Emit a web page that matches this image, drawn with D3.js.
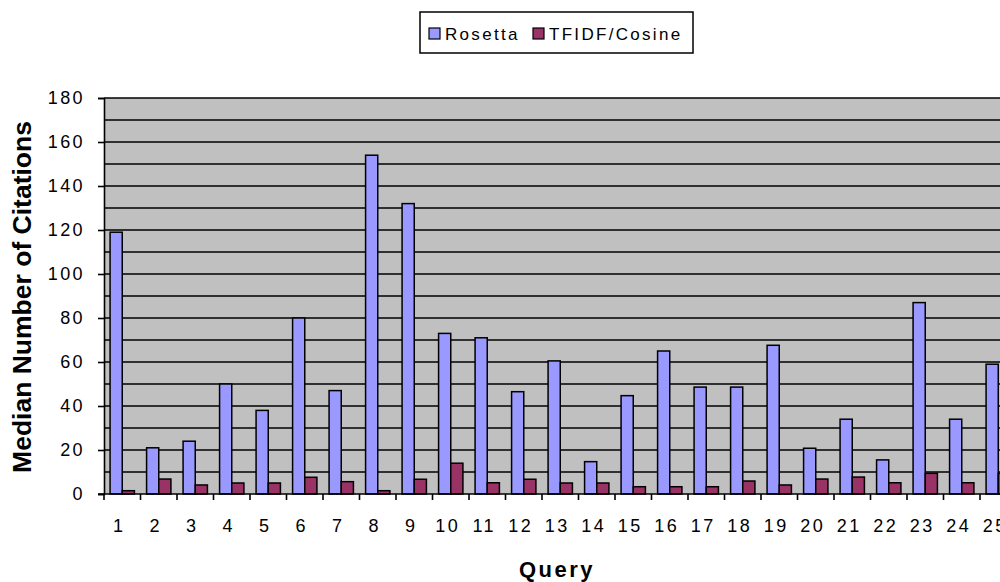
<!DOCTYPE html>
<html>
<head>
<meta charset="utf-8">
<script src="https://cdn.jsdelivr.net/npm/d3@7"></script>
<style>
  html, body { margin: 0; padding: 0; background: #fff; overflow: hidden; }
  svg { display: block; font-family: "Liberation Sans", Arial, sans-serif; }
</style>
</head>
<body>
<svg id="chart" width="1000" height="582"></svg>
<script>
// Query numbers along the x axis
const queries = ["1","2","3","4","5","6","7","8","9","10","11","12","13","14","15","16","17","18","19","20","21","22","23","24","25"];
// Median number of citations per query
const rosetta = [119, 21, 24, 50, 38, 80, 47, 154, 132, 73, 71, 46.5, 60.5, 14.7, 44.7, 65, 48.6, 48.6, 67.6, 20.8, 34, 15.5, 87, 34, 59];
const tfidf   = [1.5, 6.8, 4.1, 5, 5, 7.6, 5.6, 1.5, 6.7, 14, 5.1, 6.7, 5, 5, 3.3, 3.3, 3.3, 5.9, 4.1, 6.8, 7.7, 5.1, 9.4, 5.1, 9.4];
const seriesNames = ["Rosetta", "TFIDF/Cosine"];
const seriesColors = ["#9999FF", "#993366"];
const yTicks = [0, 20, 40, 60, 80, 100, 120, 140, 160, 180];
const gridValues = d3.range(10, 181, 10);

const svg = d3.select("#chart");
const plot = { left: 104, top: 98, bottom: 494, step: 36.5 };
plot.right = plot.left + plot.step * queries.length;

const x = d3.scaleBand().domain(queries).range([plot.left, plot.right]).padding(0);
const xs = d3.scaleBand().domain(seriesNames).range([0, x.bandwidth()])
  .paddingInner(0).paddingOuter(0.5);
const y = d3.scaleLinear().domain([0, 180]).range([plot.bottom, plot.top]);

// plot background
svg.append("rect")
  .attr("x", plot.left).attr("y", plot.top)
  .attr("width", plot.right - plot.left).attr("height", plot.bottom - plot.top)
  .attr("fill", "#C0C0C0");

// horizontal gridlines
svg.append("g").selectAll("line").data(gridValues).join("line")
  .attr("x1", plot.left).attr("x2", plot.right)
  .attr("y1", d => y(d)).attr("y2", d => y(d))
  .attr("stroke", "#000").attr("stroke-width", 1.6);

// bars
const rows = queries.map((q, i) => ({ q, values: [rosetta[i], tfidf[i]] }));
const groups = svg.append("g").selectAll("g").data(rows).join("g")
  .attr("transform", d => `translate(${x(d.q)},0)`);
groups.selectAll("rect")
  .data(d => d.values.map((v, j) => ({ name: seriesNames[j], v, color: seriesColors[j] })))
  .join("rect")
  .attr("x", d => xs(d.name))
  .attr("width", xs.bandwidth())
  .attr("y", d => y(d.v))
  .attr("height", d => y(0) - y(d.v))
  .attr("fill", d => d.color)
  .attr("stroke", "#000").attr("stroke-width", 1.5);

// y axis
const yAxis = svg.append("g")
  .attr("transform", `translate(${plot.left},0)`)
  .call(d3.axisLeft(y).tickValues(yTicks).tickSize(6).tickPadding(13));
yAxis.select(".domain").attr("stroke", "#000").attr("stroke-width", 1.6);
yAxis.selectAll(".tick line").attr("stroke", "#000").attr("stroke-width", 1.6);
yAxis.selectAll(".tick text")
  .attr("font-size", 18).attr("letter-spacing", "2.4px")
  .attr("fill", "#000").attr("font-family", "Liberation Sans, Arial, sans-serif");

// x axis: ticks on category boundaries
const xAxis = svg.append("g").attr("transform", `translate(0,${plot.bottom})`);
xAxis.append("line")
  .attr("x1", plot.left - 6).attr("x2", plot.right)
  .attr("stroke", "#000").attr("stroke-width", 1.6);
xAxis.selectAll("line.tk").data(queries).join("line").attr("class", "tk")
  .attr("x1", d => x(d)).attr("x2", d => x(d))
  .attr("y1", 0).attr("y2", 6)
  .attr("stroke", "#000").attr("stroke-width", 1.6);
xAxis.selectAll("text").data(queries).join("text")
  .attr("x", d => x(d) + x.bandwidth() / 2 - 3)
  .attr("y", 38)
  .attr("text-anchor", "middle")
  .attr("font-size", 18).attr("letter-spacing", "2.4px")
  .text(d => d);

// axis titles
svg.append("text")
  .attr("transform", `translate(31,297) rotate(-90)`)
  .attr("text-anchor", "middle")
  .attr("font-size", 26.5).attr("font-weight", "bold")
  .text("Median Number of Citations");
svg.append("text")
  .attr("x", 557).attr("y", 577)
  .attr("text-anchor", "middle")
  .attr("font-size", 22).attr("font-weight", "bold").attr("letter-spacing", "2.5px")
  .text("Query");

// legend
const legend = svg.append("g");
legend.append("rect")
  .attr("x", 420).attr("y", 12).attr("width", 273).attr("height", 41)
  .attr("fill", "#fff").attr("stroke", "#000").attr("stroke-width", 1.5);
const legendX = [429, 533];
seriesNames.forEach((name, i) => {
  legend.append("rect")
    .attr("x", legendX[i]).attr("y", 28).attr("width", 11).attr("height", 11)
    .attr("fill", seriesColors[i]).attr("stroke", "#000").attr("stroke-width", 1.2);
  legend.append("text")
    .attr("x", legendX[i] + 16).attr("y", 39.5)
    .attr("font-size", 17).attr("letter-spacing", "2.3px")
    .text(name);
});
</script>
</body>
</html>
